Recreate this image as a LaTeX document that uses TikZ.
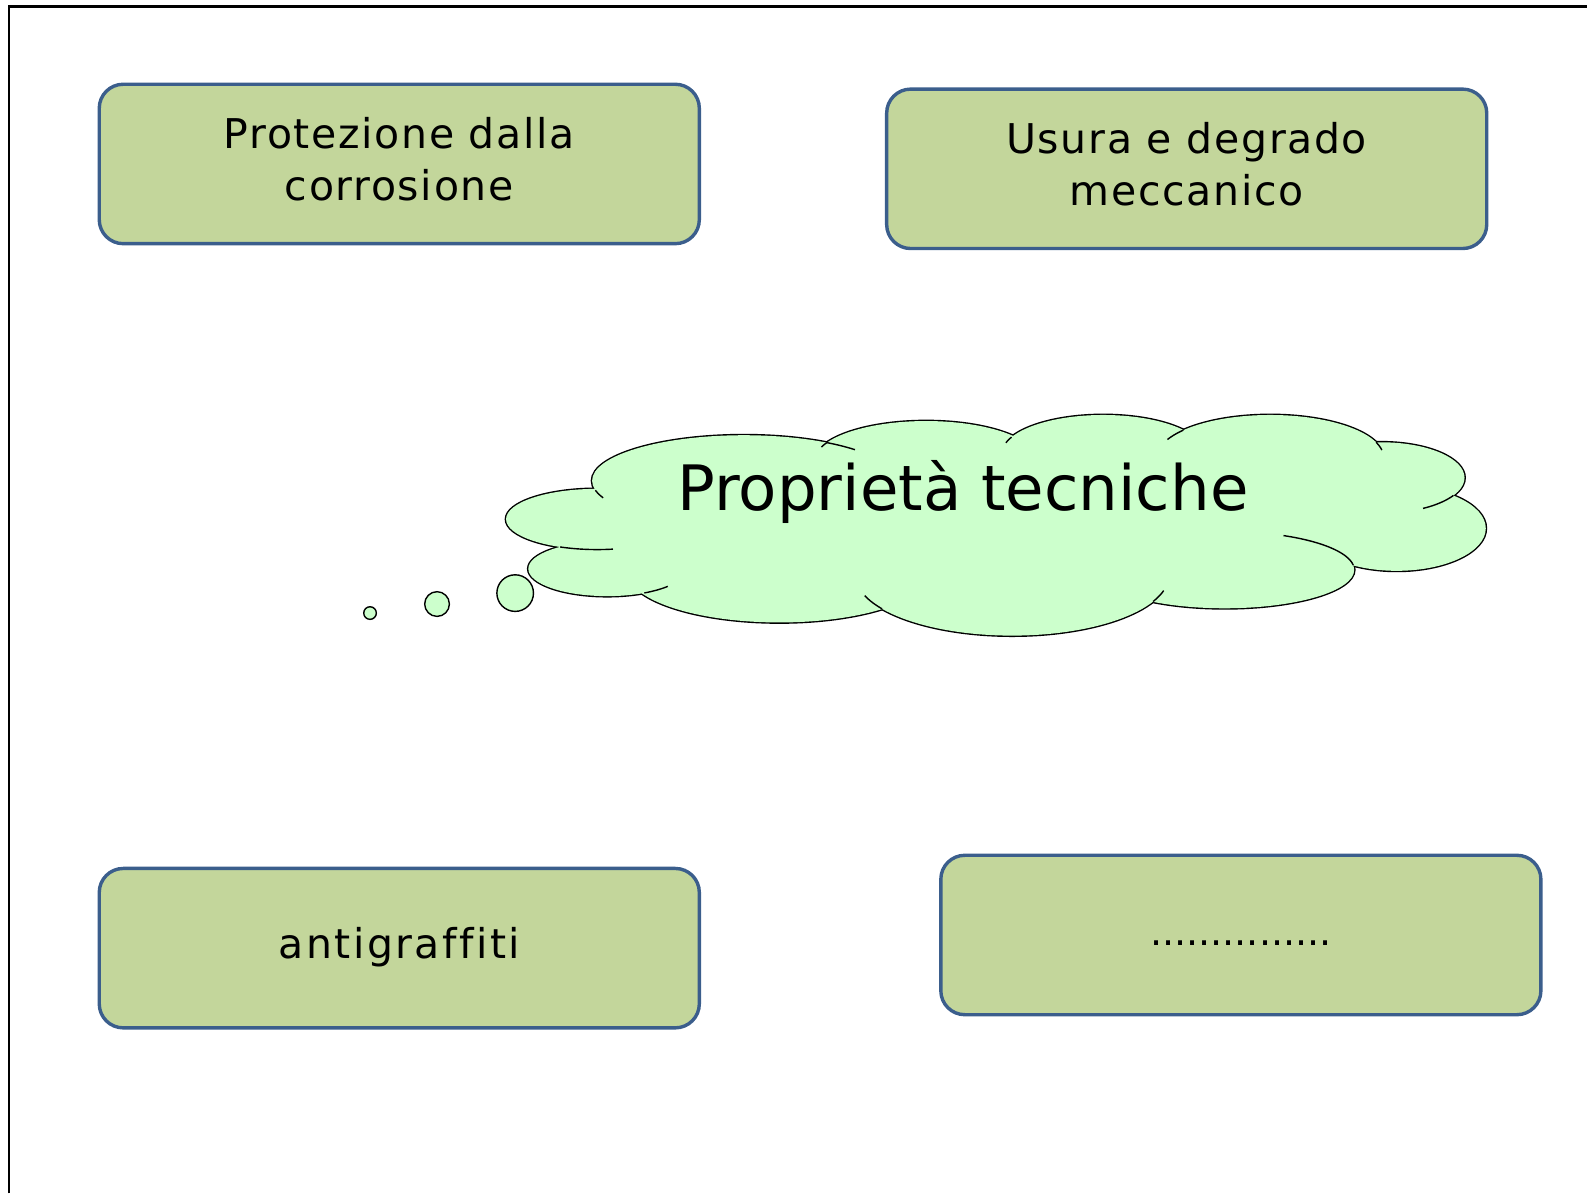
\documentclass[tikz,border=0pt]{standalone}
\usepackage{fontspec}
\setmainfont{DejaVu Sans}
\newfontfamily\boxfont[LetterSpace=4.0,Ligatures=NoCommon]{DejaVu Sans}
\newfontfamily\boxfontwide[LetterSpace=6.0,Ligatures=NoCommon]{DejaVu Sans}
\definecolor{boxfill}{HTML}{C3D69B}
\definecolor{boxline}{HTML}{3B5E8C}
\definecolor{cloudfill}{HTML}{CCFFCC}
\begin{document}
\begin{tikzpicture}[x=0.506pt,y=-0.506pt,
  gbox/.style={draw=boxline, fill=boxfill, line width=1.7pt, rounded corners=12pt,
    minimum width=300pt, minimum height=79.7pt, inner sep=0pt, align=center,
    font=\boxfont\fontsize{20.5}{26}\selectfont, text height=15.6pt, text depth=5pt},
  twoline/.style={text height=41.6pt},
  bubble/.style={circle, draw=black, fill=cloudfill, line width=0.7pt, inner sep=0pt},
  crease/.style={draw=black, line width=0.7pt}]
\useasboundingbox (0,0) rectangle (1568,1179);
% frame
\draw[line width=1.2pt] (9.1,1179) -- (9.1,6.4) -- (1568,6.4);
% boxes
\node[gbox, twoline] (b1) at (394.5,162) {Protezione dalla\\corrosione};
\node[gbox, twoline] (b2) at (1172.5,166.8) {Usura e degrado\\meccanico};
\node[gbox, font=\boxfontwide\fontsize{20.5}{26}\selectfont] (b3) at (394.5,936.8) {antigraffiti};
\node[gbox, font=\fontsize{19}{23}\selectfont] (b4) at (1226,923.8) {...............};
% cloud
\def\lobelist{735/475/150/45, 590/513/90/30, 600/562/78/27, 770/565/150/50,
  1000/568/155/60, 1210/563/128/38, 1380/522/88/42, 1365/472/82/35,
  1255/452/112/42, 1090/448/100/38, 915/455/110/39}
\foreach \cx/\cy/\rx/\ry in \lobelist {
  \draw[line width=1.4pt, fill=cloudfill] (\cx,\cy) ellipse [x radius=\rx, y radius=\ry];
}
\foreach \cx/\cy/\rx/\ry in \lobelist {
  \fill[cloudfill] (\cx,\cy) ellipse [x radius=\rx, y radius=\ry];
}
\fill[cloudfill] (980,510) ellipse [x radius=380, y radius=70];
% creases
\foreach \cx/\cy/\rx/\ry/\ta/\tb in {735/475/150/45/158/168, 735/475/150/45/303/317,
  590/513/90/30/80/114, 600/562/78/27/40/62, 1000/568/155/60/15/26,
  1000/568/155/60/146/160, 1210/563/128/38/-63/-7, 1365/472/82/35/30/60,
  1255/452/112/42/205/220, 1255/452/112/42/339/350, 1090/448/100/38/196/205,
  915/455/110/39/200/207} {
  \draw[crease] plot[domain=\ta:\tb, samples=16, variable=\t]
    ({\cx+\rx*cos(\t)},{\cy+\ry*sin(\t)});
}
\node[anchor=base, font=\fontsize{31.3}{37}\selectfont, inner sep=0pt] (title) at (951.6,504) {Proprietà tecniche};
% thought bubbles
\node[bubble, minimum size=6.3pt] (bub1) at (365.6,605.7) {};
\node[bubble, minimum size=12.35pt] (bub2) at (431.8,596.8) {};
\node[bubble, minimum size=18.3pt] (bub3) at (509,586) {};
\end{tikzpicture}
\end{document}
